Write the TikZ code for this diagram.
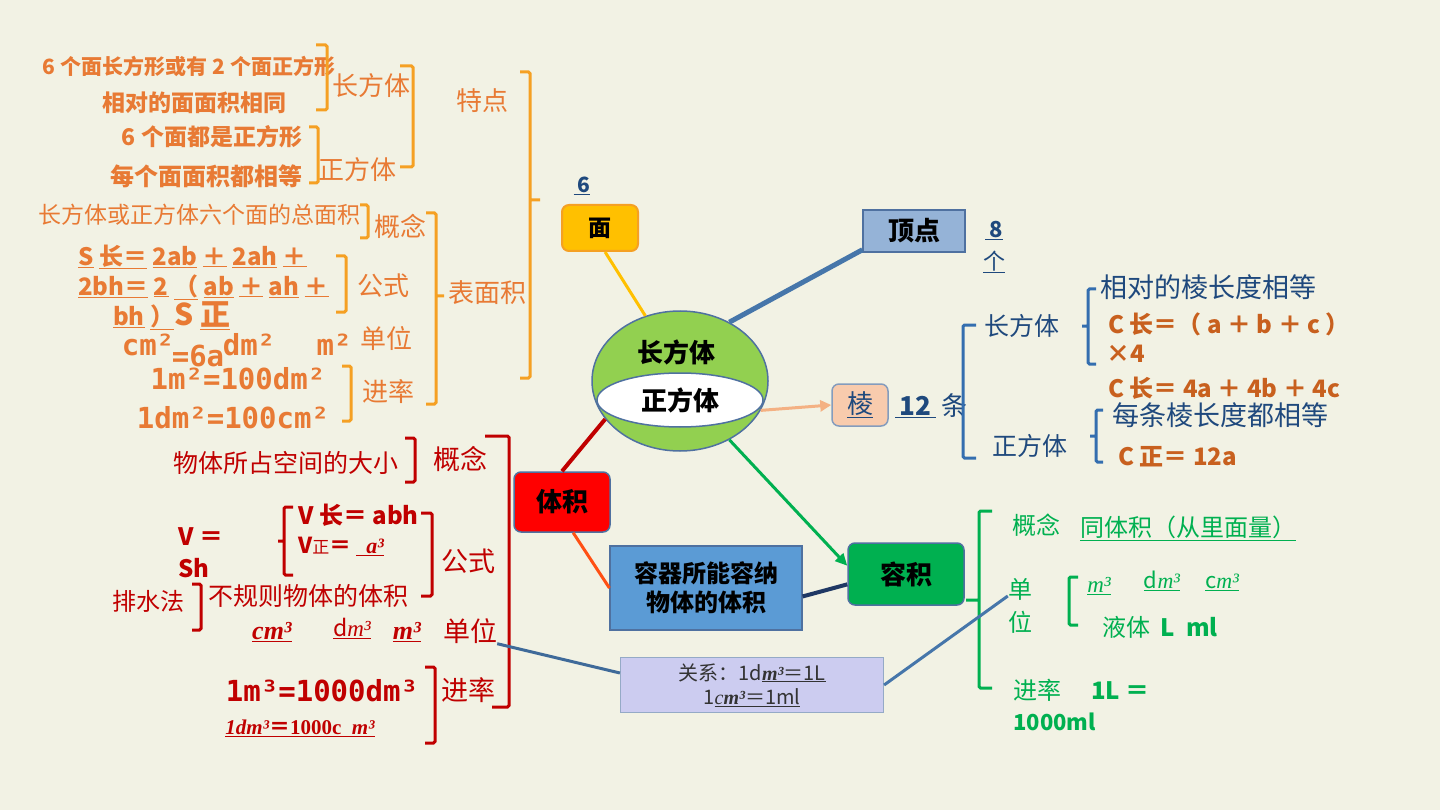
\documentclass[tikz,border=0pt]{standalone}
\usepackage{fontspec}
\setmainfont{Noto Sans CJK SC}
\newfontfamily\monofont{DejaVu Sans Mono}
\newfontfamily\serifbi{Liberation Serif}
\usetikzlibrary{positioning,shapes.geometric,arrows.meta}

\definecolor{paper}{RGB}{242,242,228}
\definecolor{ortext}{RGB}{232,122,52}
\definecolor{orline}{RGB}{245,160,35}
\definecolor{redtext}{RGB}{192,0,0}
\definecolor{greentext}{RGB}{0,176,80}
\definecolor{navytext}{RGB}{31,73,125}
\definecolor{browntext}{RGB}{200,96,30}
\definecolor{blueline}{RGB}{52,110,175}
\definecolor{steel}{RGB}{70,118,170}
\definecolor{navyline}{RGB}{31,56,100}
\definecolor{gold}{RGB}{255,192,0}
\definecolor{peach}{RGB}{248,203,173}
\definecolor{peachline}{RGB}{244,177,131}
\definecolor{orangered}{RGB}{255,80,20}
\definecolor{skyblue}{RGB}{149,179,215}
\definecolor{midblue}{RGB}{91,155,213}
\definecolor{lavender}{RGB}{204,204,240}
\definecolor{leaf}{RGB}{146,208,80}
\definecolor{rim}{RGB}{79,113,160}

\begin{document}
\begin{tikzpicture}[x=1pt,y=-1pt]
\tikzstyle{topic}=[rectangle, rounded corners=7pt, draw=rim, line width=1.5pt, font=\fontsize{26}{30}\selectfont\bfseries]
\tikzstyle{box}=[rectangle, draw=rim, line width=1.2pt, align=center]
\tikzstyle{connect}=[line width=3pt]
\tikzstyle{brace}=[line width=3pt, rounded corners=1.5pt]
\tikzstyle{otx}=[text=ortext, inner sep=0pt, font=\fontsize{23}{27}\selectfont]
\tikzstyle{olab}=[otx, font=\fontsize{26}{30}\selectfont]
\tikzstyle{omono}=[otx, font=\fontsize{29}{32}\monofont\bfseries]
\tikzstyle{rtx}=[text=redtext, inner sep=0pt, font=\fontsize{25}{29}\selectfont]
\tikzstyle{rlab}=[rtx, font=\fontsize{27}{30}\selectfont]
\tikzstyle{btx}=[text=navytext, inner sep=0pt, font=\fontsize{26}{30}\selectfont]
\tikzstyle{ctx}=[text=browntext, inner sep=0pt, font=\fontsize{24}{28}\selectfont\bfseries]
\tikzstyle{gtx}=[text=greentext, inner sep=0pt, font=\fontsize{24}{33}\selectfont]
\fill[paper] (0,0) rectangle (1440,810);
\useasboundingbox (0,0) rectangle (1440,810);

% centre
\node[ellipse, draw=rim, line width=1.5pt, fill=leaf, minimum width=176pt, minimum height=140pt] (body) at (680,381) {};
\node[ellipse, draw=rim, line width=1.5pt, fill=white, minimum width=166pt, minimum height=54pt, font=\fontsize{26}{30}\selectfont\bfseries] (inner) at (680,400) {正方体};
\node[font=\fontsize{26}{30}\selectfont\bfseries] (title) at (676,352) {长方体};

% branches
\node[topic, fill=gold, draw=orline, line width=2pt, minimum width=76pt, minimum height=46pt, font=\fontsize{23}{27}\selectfont\bfseries] (mian) at (600,228) {面};
\node[box, fill=skyblue, minimum width=102pt, minimum height=42pt, font=\fontsize{26}{30}\selectfont\bfseries] (ding) at (914,231) {顶点};
\node[topic, fill=peach, draw=rim!70, minimum width=56pt, minimum height=42pt, font=\fontsize{26}{30}\selectfont, text=navytext] (leng) at (860,405) {\underline{棱}};
\node[topic, fill=red, minimum width=96pt, minimum height=60pt] (tiji) at (562,502) {体积};
\node[box, fill=midblue, minimum width=192pt, minimum height=84pt, font=\fontsize{24}{29}\selectfont\bfseries] (rongqi) at (706,588) {容器所能容纳\\物体的体积};
\node[topic, fill=greentext, minimum width=116pt, minimum height=62pt] (rongji) at (906,574) {容积};
\node[box, fill=lavender, draw=rim!60, minimum width=263pt, minimum height=55pt, font=\fontsize{20}{24}\selectfont, text=black!80, inner sep=2pt] (guanxi) at (752,685) {关系：1d\underline{{\serifbi\bfseries\itshape m³}＝1L}\\1\underline{{\serifbi\itshape c\bfseries m³}＝1ml}};

\node[text=navytext, inner sep=0pt, font=\fontsize{21}{24}\selectfont\bfseries] (six) at (582,186) {\underline{\hspace{4pt}6}};
\node[text=navytext, inner sep=0pt, font=\fontsize{22}{24}\selectfont\bfseries] (eight) at (994,231) {\underline{\hspace{4pt}8}};
\node[text=navytext, inner sep=0pt, font=\fontsize{22}{24}\selectfont] (ge) at (994,262) {\underline{个}};
\node[btx, anchor=west] (tiao) at (895,406) {\underline{\bfseries\,12\,} 条};

% surface area
\node[otx, font=\fontsize{21}{24}\selectfont\bfseries] (o1) at (189,66) {6 个面长方形或有 2 个面正方形};
\node[otx, font=\fontsize{23}{27}\selectfont\bfseries] (o2) at (194,103) {相对的面面积相同};
\node[otx, font=\fontsize{23}{27}\selectfont\bfseries] (o3) at (212,137) {6 个面都是正方形};
\node[otx, font=\fontsize{24}{27}\selectfont\bfseries] (o4) at (206,176) {每个面面积都相等};
\node[olab] (ocft) at (371,86) {长方体};
\node[olab] (ozft) at (357,170) {正方体};
\node[olab] (tedian) at (482,101) {特点};
\node[otx] (o5) at (199,215) {长方体或正方体六个面的总面积};
\node[olab] (ogn) at (400,226) {概念};
\node[otx, anchor=west, font=\fontsize{24}{28}\selectfont\bfseries] (s1) at (78,257) {\underline{S} \underline{长＝} \underline{2ab} \underline{＋} \underline{2ah} \underline{＋}};
\node[otx, anchor=west, font=\fontsize{24}{28}\selectfont\bfseries] (s2) at (78,287) {\underline{2bh＝} \underline{2} \underline{（} \underline{ab} \underline{＋} \underline{ah} \underline{＋}};
\node[otx, anchor=west, font=\fontsize{24}{28}\selectfont\bfseries] (s3) at (113,316) {\underline{bh} \underline{）}{\fontsize{30}{32}\selectfont S \underline{正}}};
\node[omono] (ucm) at (148,345) {cm²};
\node[omono] (u6a) at (198,356) {=6a};
\node[omono] (udm) at (249,345) {dm²};
\node[omono] (um) at (334,345) {m²};
\node[olab] (ogs) at (383,286) {公式};
\node[olab] (odw) at (386,339) {单位};
\node[omono] (j1) at (238,379) {1m²=100dm²};
\node[omono] (j2) at (233,418) {1dm²=100cm²};
\node[olab] (ojl) at (388,392) {进率};
\node[olab] (bmj) at (487,293) {表面积};

% volume
\node[rtx] (r1) at (286,463) {物体所占空间的大小};
\node[rlab] (rgn) at (460,459) {概念};
\node[rtx, anchor=west, font=\fontsize{24}{28}\selectfont\bfseries] (vsh1) at (178,537) {V ＝};
\node[rtx, anchor=west, font=\fontsize{24}{28}\selectfont\bfseries] (vsh2) at (178,568) {Sh};
\node[rtx, anchor=west, font=\fontsize{24}{28}\selectfont\bfseries] (vc) at (298,515) {V 长＝ abh};
\node[rtx, anchor=west, font=\fontsize{22}{26}\selectfont\bfseries] (vz) at (298,546) {V{\mdseries\fontsize{17}{20}\selectfont 正}＝ \underline{\ \ {\serifbi\bfseries\itshape a³}}};
\node[rlab] (rgs) at (468,561) {公式};
\node[rtx, font=\fontsize{24}{28}\selectfont] (psf) at (148,601) {排水法};
\node[rtx] (bgz) at (308,596) {不规则物体的体积};
\node[rtx, font=\fontsize{26}{30}\serifbi\bfseries\itshape] (rcm) at (272,632) {\underline{cm³}};
\node[rtx, font=\fontsize{23}{27}\selectfont] (rdm) at (352,628) {\underline{d{\serifbi\itshape m³}}};
\node[rtx, font=\fontsize{26}{30}\serifbi\bfseries\itshape] (rm) at (407,632) {\underline{m³}};
\node[rlab] (rdw) at (470,631) {单位};
\node[rtx, font=\fontsize{29}{32}\monofont\bfseries] (rj1) at (322,691) {1m³=1000dm³};
\node[rtx, font=\fontsize{21}{24}\serifbi\bfseries] (rj2) at (300,728) {\underline{{\itshape 1dm³}{\rmfamily\upshape ＝}1000c\ \ {\itshape m³}}};
\node[rlab] (rjl) at (468,690) {进率};

% edges
\node[btx, font=\fontsize{25}{29}\selectfont] (rcft) at (1022,326) {长方体};
\node[btx, font=\fontsize{25}{29}\selectfont] (rzft) at (1030,446) {正方体};
\node[btx, anchor=west, font=\fontsize{27}{30}\selectfont] (b1) at (1100,287) {相对的棱长度相等};
\node[ctx, anchor=west] (c1) at (1108,324) {C 长＝（ a ＋ b ＋ c ）};
\node[ctx, anchor=west] (c2) at (1106,354) {×4};
\node[ctx, anchor=west] (c3) at (1108,388) {C 长＝ 4a ＋ 4b ＋ 4c};
\node[btx, anchor=west, font=\fontsize{27}{30}\selectfont] (b2) at (1112,415) {每条棱长度都相等};
\node[ctx, anchor=west] (c4) at (1118,457) {C 正＝ 12a};

% capacity
\node[gtx] (ggn) at (1036,525) {概念};
\node[gtx, anchor=west] (gdef) at (1080,528) {\underline{同体积（从里面量）}};
\node[gtx, align=center] (gdw) at (1020,606) {单\\位};
\node[gtx, font=\fontsize{23}{26}\serifbi\itshape] (gm) at (1099,586) {\underline{m³}};
\node[gtx, font=\fontsize{22}{26}\selectfont] (gdm) at (1162,581) {\underline{d{\serifbi\itshape m³}}};
\node[gtx, font=\fontsize{22}{26}\selectfont] (gcm) at (1222,582) {\underline{c{\serifbi\itshape m³}}};
\node[gtx] (gyt) at (1160,627) {液体\ \ \textbf{L\ \ ml}};
\node[gtx, anchor=west] (gjl) at (1013,690) {进率\hspace{30pt}\textbf{1L ＝}};
\node[gtx, anchor=west, font=\fontsize{22}{26}\selectfont\bfseries] (gml) at (1013,722) {1000ml};

% brackets
\draw[brace, orline] (316,45) -| (327,110) -- (316,110);
\draw[brace, orline] (400,66) -| (413,167) -- (400,167);
\draw[brace, orline] (309,127) -| (318,183) -- (309,183);
\draw[brace, orline] (520,72) -| (530,378) -- (520,378) (530,200) -- (540,200);
\draw[brace, orline] (360,205) -| (368,238) -- (360,238);
\draw[brace, orline] (336,256) -| (346,312) -- (336,312);
\draw[brace, orline] (342,366) -| (351,421) -- (342,421);
\draw[brace, orline] (426,213) -| (436,404) -- (426,404) (436,296) -- (444,296);
\draw[brace, redtext] (405,438) -| (415,482) -- (405,482);
\draw[brace, redtext] (485,436) -| (509,707) -- (492,707);
\draw[brace, redtext] (293,507) -| (284,575) -- (293,575) (284,541) -- (278,541);
\draw[brace, redtext] (421,513) -| (432,596) -- (421,596);
\draw[brace, redtext] (192,584) -| (201,630) -- (192,630);
\draw[brace, redtext] (425,667) -| (435,743) -- (425,743);
\draw[brace, blueline] (976,325) -| (963,458) -- (976,458);
\draw[brace, blueline] (1096,289) -| (1088,364) -- (1096,364) (1088,326) -- (1082,326);
\draw[brace, blueline] (1103,410) -| (1096,462) -- (1103,462) (1096,436) -- (1090,436);
\draw[brace, greentext] (992,511) -| (979,688) -- (992,688) (979,600) -- (966,600);
\draw[brace, greentext] (1078,577) -| (1069,625) -- (1078,625);

% connectors
\draw[connect, gold] (mian.-78) -- (body.118);
\draw[steel, line width=5pt] (body.50) -- (ding.200);
\draw[connect, peachline, -{Triangle[length=11pt,width=11pt]}] (body.-20) -- (leng.west);
\draw[redtext, line width=4pt] (body.207) -- (tiji.north);
\draw[connect, orangered] (tiji.-70) -- (rongqi.west);
\draw[navyline, line width=4pt] (rongqi.-5) -- (rongji.190);
\draw[connect, greentext, -{Triangle[length=12pt,width=11pt]}] (body.-50) -- (rongji.172);
\draw[connect, steel!90!black] (rdw.south east) -- ([yshift=12pt]guanxi.west);
\draw[connect, steel] (guanxi.east) -- ([yshift=10pt]gdw.west);
\end{tikzpicture}
\end{document}
